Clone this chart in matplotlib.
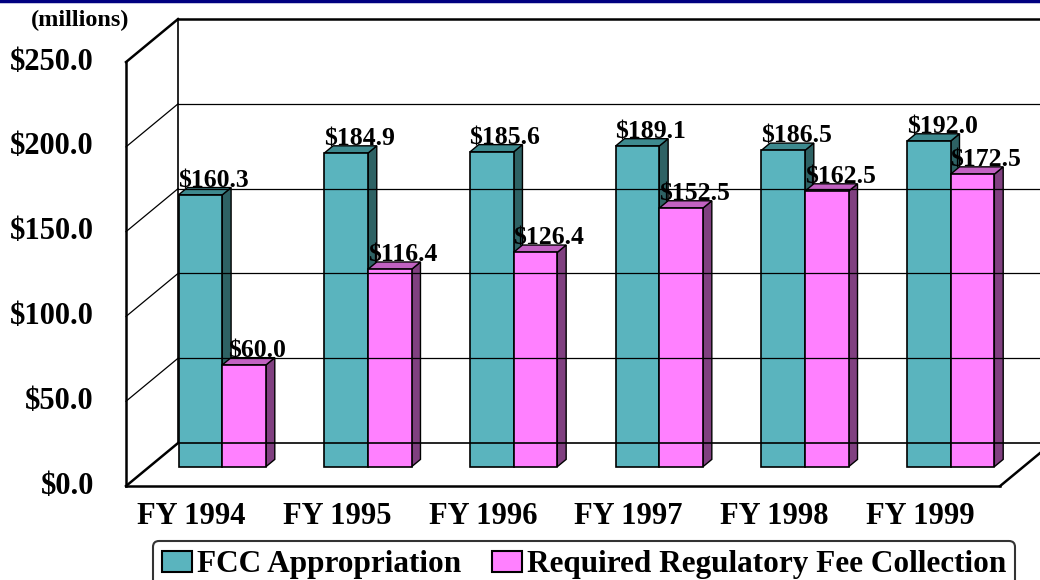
import matplotlib.pyplot as plt
from matplotlib.patches import Polygon, Patch
from matplotlib.lines import Line2D

years = ['FY 1994', 'FY 1995', 'FY 1996', 'FY 1997', 'FY 1998', 'FY 1999']
appropriation = [160.3, 184.9, 185.6, 189.1, 186.5, 192.0]
fee_collection = [60.0, 116.4, 126.4, 152.5, 162.5, 172.5]
y_ticks = [0, 50, 100, 150, 200, 250]

series_names = ['FCC Appropriation', 'Required Regulatory Fee Collection']
# face, top, side
teal = ('#5AB4BE', '#3E8A8F', '#2E6264')
pink = ('#FF80FF', '#C262C2', '#804080')

plt.rcParams['font.family'] = ['Liberation Serif', 'DejaVu Serif']
plt.rcParams['font.weight'] = 'bold'

# 3-D look: how far the back wall is shifted (category units, value units)
DX, DY = 0.357, 25.35
T0, T1 = 0.45, 0.62  # depth of bar front / back face
W = 0.3               # bar width

fig = plt.figure(figsize=(10.4, 5.8), dpi=100)
ax = fig.add_axes([0, 0, 1, 1])
ax.set_xlim(-0.865, 6.274)
ax.set_ylim(-55.4, 286.6)
ax.axis('off')

n = len(years)
top = y_ticks[-1]

# back wall gridlines + left wall diagonals
for v in y_ticks:
    lw = 1.8 if v in (0, top) else 0.9
    ax.plot([0, DX], [v, v + DY], color='black', lw=lw)
    ax.plot([DX, n + DX], [v + DY, v + DY], color='black',
            lw=1.8 if v == top else (1.2 if v == 0 else 0.9))
# wall edges
ax.plot([0, 0], [0, top], color='black', lw=1.8)
ax.plot([DX, DX], [DY, top + DY], color='black', lw=1.2)
ax.plot([0, n], [0, 0], color='black', lw=1.8)
ax.plot([n, n + DX], [0, DY], color='black', lw=1.8)


def box(xl, v, cols):
    face, topc, side = cols
    x0, y0 = xl + T0 * DX, T0 * DY
    x1, y1 = xl + T1 * DX, T1 * DY
    ax.add_patch(Polygon([(x0 + W, y0), (x1 + W, y1), (x1 + W, v + y1), (x0 + W, v + y0)],
                         closed=True, fc=side, ec='black', lw=1))
    ax.add_patch(Polygon([(x0, v + y0), (x0 + W, v + y0), (x1 + W, v + y1), (x1, v + y1)],
                         closed=True, fc=topc, ec='black', lw=1))
    ax.add_patch(Polygon([(x0, y0), (x0 + W, y0), (x0 + W, v + y0), (x0, v + y0)],
                         closed=True, fc=face, ec='black', lw=1.2))
    ax.text(xl + W / 2 + T1 * DX + 0.03, v + T1 * DY + 0.3, f'${v:.1f}',
            ha='center', va='baseline', fontsize=18.5, zorder=5)


for i in range(n):
    box(i + 0.5 - W, appropriation[i], teal)
    box(i + 0.5, fee_collection[i], pink)
    ax.text(i + 0.45, -17.7, years[i], ha='center', va='center', fontsize=22)

for v in y_ticks:
    ax.text(-0.22, v, f'${v:.1f}', ha='right', va='center', fontsize=22)
ax.text(-0.316, 274.5, '(millions)', ha='center', va='center', fontsize=17.5)

handles = [Patch(fc=teal[0], ec='black', lw=1.5), Patch(fc=pink[0], ec='black', lw=1.5)]
leg = ax.legend(handles, series_names, loc='upper left', ncol=2,
                bbox_to_anchor=(153 / 1040, 1 - 541 / 580), bbox_transform=fig.transFigure,
                prop={'family': 'Liberation Serif', 'weight': 'bold', 'size': 22.5},
                handlelength=0.95, handleheight=0.65, handletextpad=0.15,
                columnspacing=1.0, borderpad=0.3, borderaxespad=0, fancybox=True,
                frameon=True, edgecolor='black')
leg.get_frame().set_linewidth(1.5)

fig.add_artist(Line2D([0, 1], [0.998, 0.998], color='#000080', lw=2.5,
                      transform=fig.transFigure))

fig.savefig('out.png', dpi=100)
